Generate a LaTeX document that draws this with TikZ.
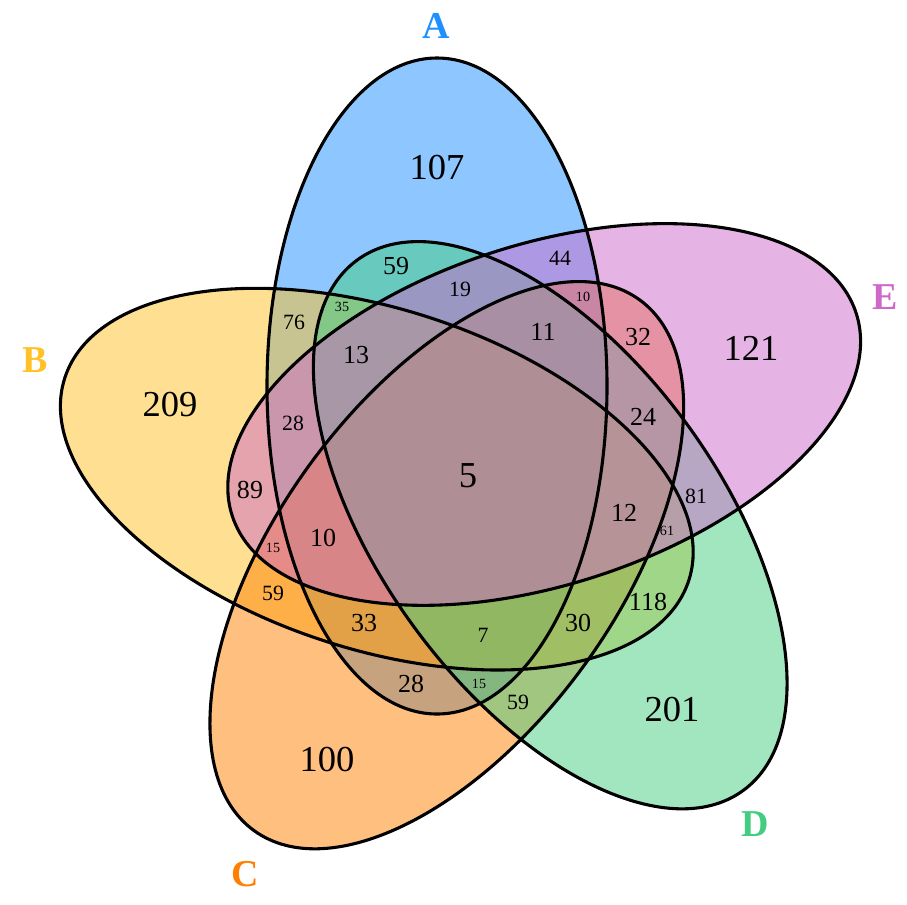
\documentclass[tikz,border=0pt]{standalone}
\usepackage{fontspec}
\setmainfont{Liberation Serif}
\usetikzlibrary{positioning}
\definecolor{SetA}{RGB}{30,144,255}
\definecolor{SetB}{RGB}{255,193,37}
\definecolor{SetC}{RGB}{255,127,0}
\definecolor{SetD}{RGB}{67,205,128}
\definecolor{SetE}{RGB}{205,105,201}

\begin{document}
\begin{tikzpicture}[
    x=0.25mm, y=-0.25mm,
    setlabel/.style={font=\fontsize{27}{29}\selectfont\bfseries},
    numL/.style={font=\fontsize{26}{28}\selectfont},
    numM/.style={font=\fontsize{18.5}{20}\selectfont},
    numS/.style={font=\fontsize{15.5}{17}\selectfont},
    numXS/.style={font=\fontsize{10}{12}\selectfont},
    setfill/.style={fill opacity=0.5},
    setline/.style={draw=black, line width=2.2pt}
]
\useasboundingbox (0,0) rectangle (907,904);
\coordinate (O) at (471,474);

% === Filled ellipses ===
\fill[SetA, setfill, shift={(O)}, rotate=0]   (-34,-88) ellipse [x radius=42.5mm, y radius=82mm];
\fill[SetB, setfill, shift={(O)}, rotate=72]  (-34,-88) ellipse [x radius=42.5mm, y radius=82mm];
\fill[SetC, setfill, shift={(O)}, rotate=144] (-34,-88) ellipse [x radius=42.5mm, y radius=82mm];
\fill[SetD, setfill, shift={(O)}, rotate=216] (-34,-88) ellipse [x radius=42.5mm, y radius=82mm];
\fill[SetE, setfill, shift={(O)}, rotate=288] (-34,-88) ellipse [x radius=42.5mm, y radius=82mm];

% === Outlines ===
\draw[setline, shift={(O)}, rotate=0]   (-34,-88) ellipse [x radius=42.5mm, y radius=82mm];
\draw[setline, shift={(O)}, rotate=72]  (-34,-88) ellipse [x radius=42.5mm, y radius=82mm];
\draw[setline, shift={(O)}, rotate=144] (-34,-88) ellipse [x radius=42.5mm, y radius=82mm];
\draw[setline, shift={(O)}, rotate=216] (-34,-88) ellipse [x radius=42.5mm, y radius=82mm];
\draw[setline, shift={(O)}, rotate=288] (-34,-88) ellipse [x radius=42.5mm, y radius=82mm];

% === Set labels ===
\node[setlabel, SetA] (labA) at (436,26) {A};
\node[setlabel, SetB] (labB) at (35,360) {B};
\node[setlabel, SetC] (labC) at (245,874) {C};
\node[setlabel, SetD] (labD) at (755,824) {D};
\node[setlabel, SetE] (labE) at (885,297) {E};

% === Single sets ===
\node[numL] (nA) at (437,168) {107};
\node[numL] (nB) at (170,405) {209};
\node[numL] (nC) at (327,760) {100};
\node[numL] (nD) at (672,710) {201};
\node[numL] (nE) at (751,348) {121};

% === Centre ===
\node[numL] (nABCDE) at (468,476) {5};

% === Outer ring ===
\node[numM] (nAD) at (396,266) {59};
\node[numS] (nAE) at (560,258) {44};
\node[numS] (nAB) at (294,322) {76};
\node[numM] (nCE) at (638,337) {32};
\node[numM] (nBE) at (250,490) {89};
\node[numS] (nBC) at (273,593) {59};
\node[numM] (nBD) at (648,602) {118};
\node[numS] (nED) at (696,496) {81};
\node[numM] (nAC) at (411,684) {28};
\node[numS] (nCD) at (518,702) {59};

% === Triple and small regions ===
\node[numXS] (nABD) at (342,307) {35};
\node[numXS] (nACE) at (583,297) {10};
\node[numXS] (nBCE) at (273,548) {15};
\node[numXS] (nBDE) at (667,531) {61};
\node[numXS] (nACD) at (479,684) {15};
\node[numS]  (nADE) at (460,289) {19};
\node[numM]  (nABDx) at (356,355) {13};
\node[numM]  (nACEx) at (543,332) {11};
\node[numS]  (nABE) at (293,423) {28};
\node[numM]  (nCDE) at (643,417) {24};
\node[numM]  (nBCEx) at (323,538) {10};
\node[numM]  (nBDEx) at (624,513) {12};
\node[numM]  (nABC) at (364,623) {33};
\node[numS]  (nBCD) at (483,635) {7};
\node[numM]  (nBCDx) at (578,623) {30};

\end{tikzpicture}
\end{document}
